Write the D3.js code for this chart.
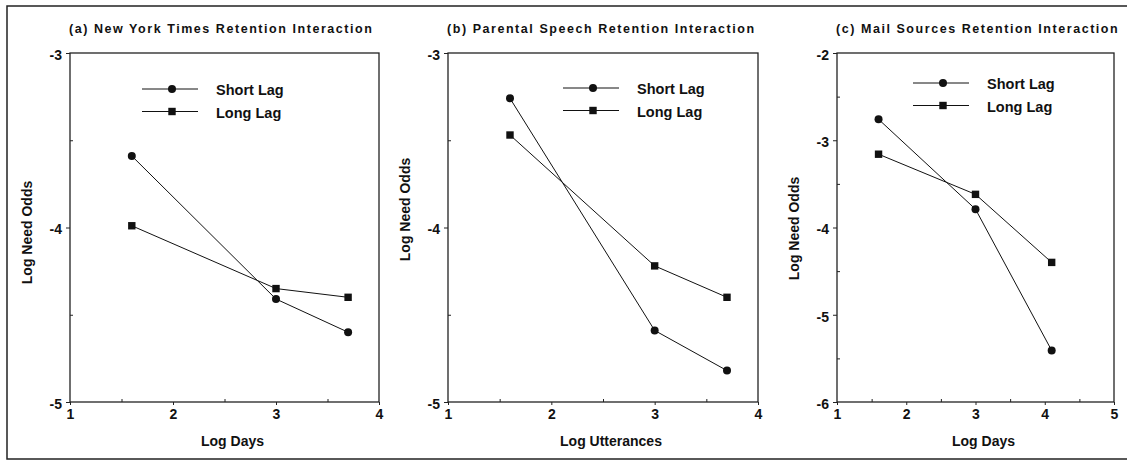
<!DOCTYPE html>
<html>
<head>
<meta charset="utf-8">
<script src="https://cdn.jsdelivr.net/npm/d3@7"></script>
<style>
body { margin: 0; background: #fff; }
text { font-family: "Liberation Sans", Arial, sans-serif; font-weight: bold; fill: #111; }
</style>
</head>
<body>
<script>
const WIDTH = 1127;
const HEIGHT = 461;

const plotTop = 53;
const plotBottom = 402;

const seriesNames = ["Short Lag", "Long Lag"];

// (a) New York Times
const nytLogDays = [1.6, 3.0, 3.7];
const nytShortLag = [-3.59, -4.41, -4.60];
const nytLongLag = [-3.99, -4.35, -4.40];
const nytXTicks = [1, 2, 3, 4];
const nytYTicks = [-3, -4, -5];

// (b) Parental speech
const speechLogUtterances = [1.6, 3.0, 3.7];
const speechShortLag = [-3.26, -4.59, -4.82];
const speechLongLag = [-3.47, -4.22, -4.40];
const speechXTicks = [1, 2, 3, 4];
const speechYTicks = [-3, -4, -5];

// (c) Mail sources
const mailLogDays = [1.6, 3.0, 4.1];
const mailShortLag = [-2.76, -3.79, -5.41];
const mailLongLag = [-3.16, -3.62, -4.40];
const mailXTicks = [1, 2, 3, 4, 5];
const mailYTicks = [-2, -3, -4, -5, -6];

const panels = [
    { title: "(a) New York Times Retention Interaction", xLabel: "Log Days",
      xs: nytLogDays, series: [nytShortLag, nytLongLag], xTicks: nytXTicks, yTicks: nytYTicks,
      left: 70, right: 379, legX: 142, legY: 89, yLabShift: 5 },
    { title: "(b) Parental Speech Retention Interaction", xLabel: "Log Utterances",
      xs: speechLogUtterances, series: [speechShortLag, speechLongLag], xTicks: speechXTicks, yTicks: speechYTicks,
      left: 448, right: 758, legX: 563, legY: 88, yLabShift: -18 },
    { title: "(c) Mail Sources Retention Interaction", xLabel: "Log Days",
      xs: mailLogDays, series: [mailShortLag, mailLongLag], xTicks: mailXTicks, yTicks: mailYTicks,
      left: 837, right: 1114, legX: 913, legY: 83, yLabShift: 1 }
];

const svg = d3.select("body").append("svg")
    .attr("width", WIDTH)
    .attr("height", HEIGHT);

// outer frame of the figure
svg.append("rect")
    .attr("x", 7).attr("y", 6)
    .attr("width", WIDTH + 10).attr("height", 453)
    .attr("fill", "none").attr("stroke", "#222").attr("stroke-width", 1.5);

panels.forEach(p => {
    const g = svg.append("g");

    const xScale = d3.scaleLinear()
        .domain(d3.extent(p.xTicks))
        .range([p.left, p.right]);

    const yScale = d3.scaleLinear()
        .domain(d3.extent(p.yTicks))
        .range([plotBottom, plotTop]);

    // minor ticks at the half units
    const xMinor = p.xTicks.slice(1).map(d => d - 0.5);
    const yMinor = p.yTicks.slice(1).map(d => d + 0.5);

    g.append("g")
        .attr("transform", "translate(0," + plotBottom + ")")
        .call(d3.axisBottom(xScale).tickValues(xMinor).tickSize(-3).tickFormat(""))
        .call(a => a.select(".domain").remove());
    g.append("g")
        .attr("transform", "translate(" + p.left + ",0)")
        .call(d3.axisLeft(yScale).tickValues(yMinor).tickSize(-3).tickFormat(""))
        .call(a => a.select(".domain").remove());

    const xAxis = g.append("g")
        .attr("transform", "translate(0," + plotBottom + ")")
        .call(d3.axisBottom(xScale).tickValues(p.xTicks).tickSize(3).tickPadding(4).tickFormat(d => "" + d));
    const yAxis = g.append("g")
        .attr("transform", "translate(" + p.left + ",0)")
        .call(d3.axisLeft(yScale).tickValues(p.yTicks).tickSize(4).tickPadding(4).tickFormat(d => "" + d));

    [xAxis, yAxis].forEach(a => {
        a.select(".domain").remove();
        a.selectAll("text").attr("font-size", 14).attr("font-family", null).attr("fill", "#111");
        a.selectAll("line").attr("stroke", "#222");
    });
    yAxis.selectAll("text").attr("dy", "0.45em");

    g.selectAll(".tick line").attr("stroke", "#222");

    // plot box
    g.append("rect")
        .attr("x", p.left).attr("y", plotTop)
        .attr("width", p.right - p.left).attr("height", plotBottom - plotTop)
        .attr("fill", "none").attr("stroke", "#222").attr("stroke-width", 1.3);

    // title
    g.append("text")
        .attr("x", p.left - 1).attr("y", 33)
        .attr("font-size", 12.5)
        .attr("letter-spacing", "1.55px")
        .text(p.title);

    // axis titles
    g.append("text")
        .attr("x", (p.left + p.right) / 2 + 8).attr("y", 446)
        .attr("text-anchor", "middle")
        .attr("font-size", 14)
        .text(p.xLabel);

    g.append("text")
        .attr("transform", "translate(" + (p.left - 38) + "," + ((plotTop + plotBottom) / 2 + p.yLabShift) + ") rotate(-90)")
        .attr("text-anchor", "middle")
        .attr("font-size", 14)
        .text("Log Need Odds");

    // series
    const line = d3.line()
        .x((d, i) => xScale(p.xs[i]))
        .y(d => yScale(d));

    p.series.forEach((vals, si) => {
        g.append("path")
            .attr("d", line(vals))
            .attr("fill", "none")
            .attr("stroke", "#111")
            .attr("stroke-width", 1);

        const pts = g.selectAll(null).data(vals).enter();
        if (si === 0) {
            pts.append("circle")
                .attr("cx", (d, i) => xScale(p.xs[i]))
                .attr("cy", d => yScale(d))
                .attr("r", 4)
                .attr("fill", "#111");
        } else {
            pts.append("rect")
                .attr("x", (d, i) => xScale(p.xs[i]) - 3.7)
                .attr("y", d => yScale(d) - 3.7)
                .attr("width", 7.4).attr("height", 7.4)
                .attr("fill", "#111");
        }
    });

    // legend
    seriesNames.forEach((name, si) => {
        const ly = p.legY + si * 22.5;
        const lx1 = p.legX, lx2 = p.legX + 56, mx = p.legX + 30;
        g.append("line")
            .attr("x1", lx1).attr("x2", lx2)
            .attr("y1", ly).attr("y2", ly)
            .attr("stroke", "#111").attr("stroke-width", 1);
        if (si === 0) {
            g.append("circle").attr("cx", mx).attr("cy", ly).attr("r", 4).attr("fill", "#111");
        } else {
            g.append("rect").attr("x", mx - 3.7).attr("y", ly - 3.7)
                .attr("width", 7.4).attr("height", 7.4).attr("fill", "#111");
        }
        g.append("text")
            .attr("x", lx2 + 18).attr("y", ly + 6)
            .attr("font-size", 14.5)
            .text(name);
    });
});
</script>
</body>
</html>
